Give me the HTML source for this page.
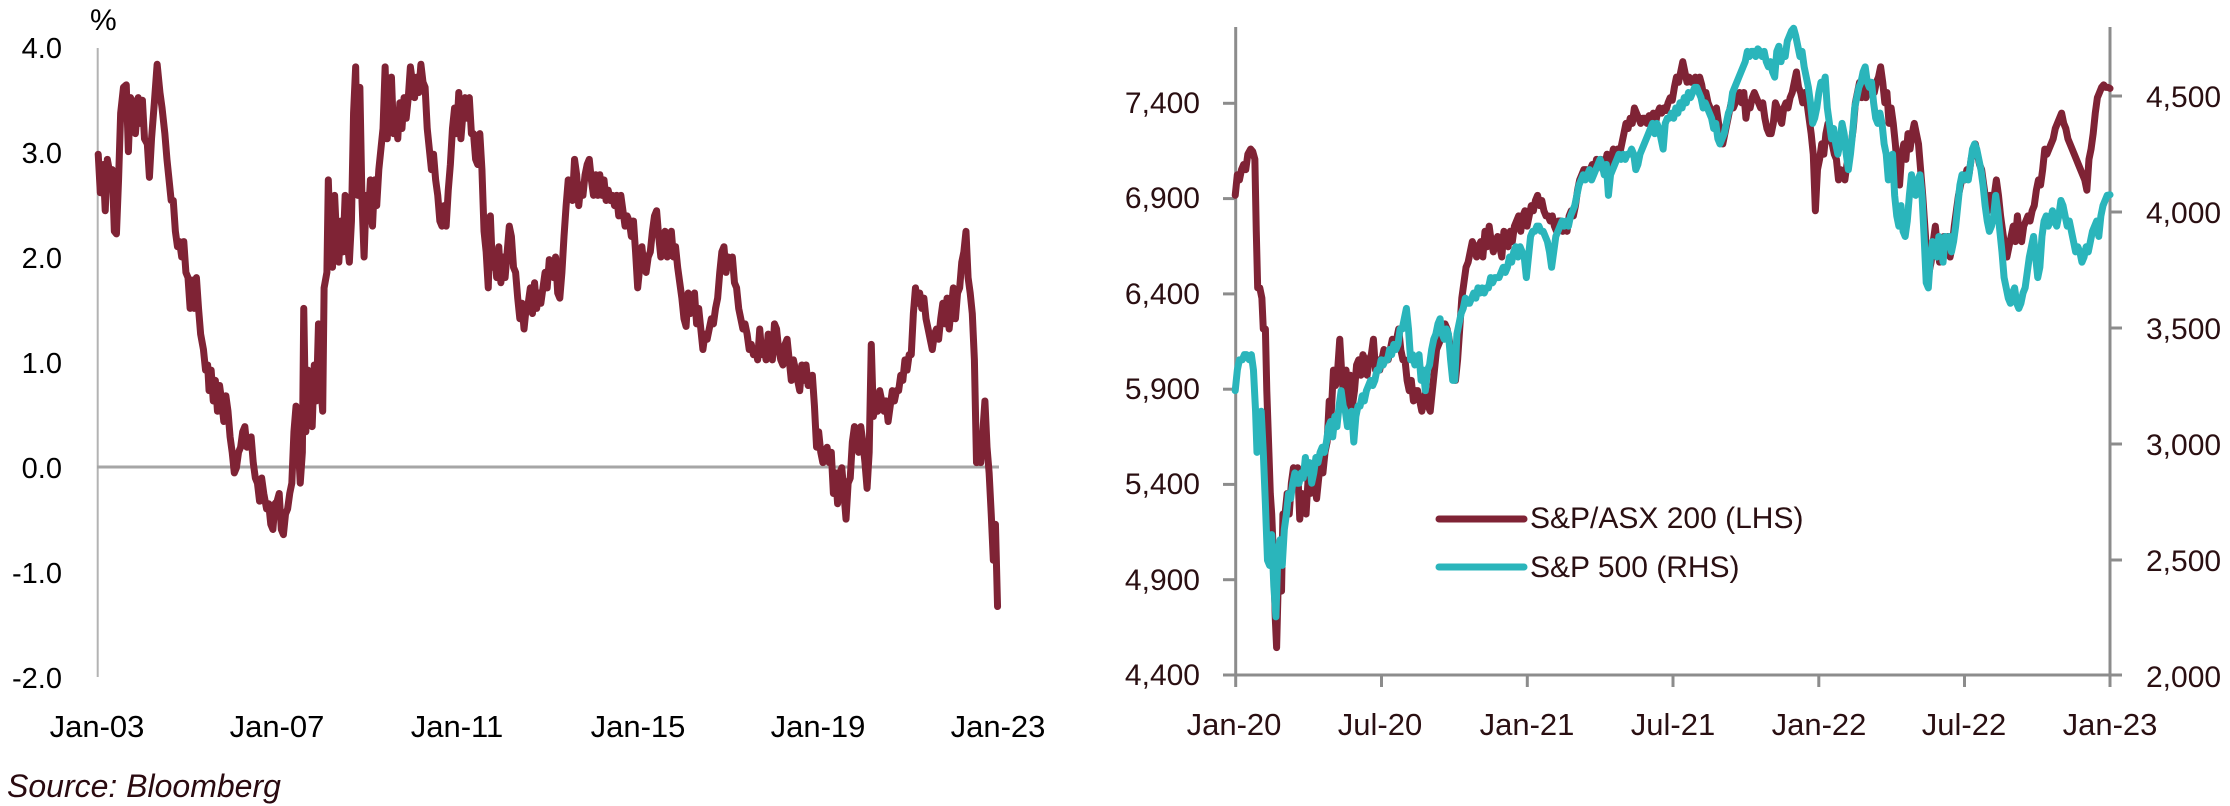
<!DOCTYPE html>
<html><head><meta charset="utf-8"><style>
html,body{margin:0;padding:0;background:#fff;}
svg{display:block;}
text{font-family:"Liberation Sans",sans-serif;}
</style></head><body>
<svg width="2230" height="806" viewBox="0 0 2230 806" xmlns="http://www.w3.org/2000/svg">
<rect width="2230" height="806" fill="#fff"/>
<!-- LEFT CHART -->
<line x1="97.7" y1="48" x2="97.7" y2="677" stroke="#b3b3b3" stroke-width="2"/>
<line x1="97" y1="467" x2="999" y2="467" stroke="#a6a6a6" stroke-width="3"/>
<g font-size="29" fill="#000" text-anchor="end">
<text x="62" y="58">4.0</text>
<text x="62" y="163">3.0</text>
<text x="62" y="268">2.0</text>
<text x="62" y="373">1.0</text>
<text x="62" y="478">0.0</text>
<text x="62" y="583">-1.0</text>
<text x="62" y="688">-2.0</text>
</g>
<text x="90" y="30" font-size="30" fill="#000">%</text>
<g font-size="31" fill="#000" text-anchor="middle">
<text x="97" y="737">Jan-03</text>
<text x="277" y="737">Jan-07</text>
<text x="457" y="737">Jan-11</text>
<text x="638" y="737">Jan-15</text>
<text x="818" y="737">Jan-19</text>
<text x="998" y="737">Jan-23</text>
</g>
<text x="7" y="797" font-size="32" font-style="italic" fill="#2a0a10">Source: Bloomberg</text>
<g transform="scale(0.70151,0.51403)">
<polyline fill="none" stroke="#7f2335" stroke-width="7" vector-effect="non-scaling-stroke" stroke-linejoin="round" stroke-linecap="round" points="140,300 143,375 147,320 150,410 153,310 157,340 160,330 163,450 166,455 169,350 172,220 176,170 180,165 183,295 186,190 190,200 193,260 197,190 200,240 203,195 206,270 210,280 213,345 216,270 220,200 224,125 228,180 231,210 235,260 238,310 241,350 244,390 247,390 250,450 253,480 256,470 259,500 262,470 265,530 268,540 271,600 274,545 277,600 280,540 283,600 286,650 290,680 293,720 296,710 298,760 301,720 304,780 307,740 310,800 313,750 316,780 319,820 322,770 325,800 328,850 331,880 334,920 337,910 340,880 343,870 346,840 349,830 352,870 355,860 358,850 361,900 364,930 367,940 370,975 373,930 376,960 380,990 383,980 386,1020 389,1030 392,980 395,975 398,960 401,1030 404,1040 407,1000 410,990 413,960 416,940 419,840 422,790 425,860 428,940 431,880 433,600 436,840 439,720 442,780 445,830 448,710 451,780 454,630 457,750 460,800 462,560 466,530 468,350 471,480 474,520 477,380 480,470 483,510 486,430 489,490 492,380 495,470 498,510 501,430 504,220 507,130 510,380 513,170 516,390 519,500 522,380 525,430 528,350 531,440 534,350 537,400 540,330 543,290 546,250 549,130 552,270 555,200 558,150 561,260 564,230 567,270 570,200 573,250 576,190 579,230 582,190 585,130 588,160 591,190 594,150 597,180 600,125 603,160 606,170 609,250 612,290 615,330 618,300 621,350 624,380 627,430 630,440 633,400 636,440 639,370 642,320 645,250 648,210 651,260 654,180 657,270 660,220 663,190 666,230 669,190 672,260 675,260 678,310 681,320 684,260 687,330 690,450 693,490 696,560 699,420 702,520 705,490 708,540 711,480 714,550 717,500 720,540 723,490 726,440 729,460 732,520 735,530 738,580 741,620 744,590 747,640 750,600 753,590 756,560 759,610 762,550 765,600 768,570 771,590 774,560 777,530 780,560 783,505 786,510 789,540 792,500 795,570 798,580 801,530 804,460 807,400 810,350 813,370 816,390 819,310 822,340 825,400 828,360 831,380 834,340 837,320 840,310 843,350 846,380 849,340 852,380 855,340 858,380 861,350 864,390 867,370 870,390 873,380 876,400 879,380 882,420 885,380 888,410 891,440 894,420 897,430 900,460 903,430 906,490 909,560 912,520 915,480 918,520 921,530 924,500 927,490 930,450 933,420 936,410 939,460 942,500 945,480 948,450 951,500 954,470 957,450 960,500 963,480 966,520 969,550 972,580 975,620 978,635 981,570 984,610 987,600 990,570 993,630 996,600 999,640 1002,680 1005,650 1008,660 1011,640 1014,620 1017,630 1020,600 1023,580 1026,530 1029,490 1032,480 1035,530 1038,500 1041,520 1044,500 1047,550 1050,560 1053,600 1056,620 1059,640 1062,630 1065,650 1068,680 1071,670 1074,690 1077,680 1080,700 1083,640 1086,690 1089,670 1092,700 1095,650 1098,680 1101,700 1104,630 1107,640 1110,680 1113,700 1116,710 1119,670 1122,660 1125,700 1128,740 1131,700 1134,720 1137,740 1140,760 1143,710 1146,740 1149,710 1152,750 1155,740 1158,730 1161,790 1164,870 1167,840 1170,880 1173,900 1176,880 1179,870 1182,900 1185,880 1188,960 1191,920 1194,980 1197,920 1200,910 1203,960 1206,1010 1209,940 1212,930 1215,860 1218,830 1221,860 1224,880 1227,830 1230,860 1233,900 1236,950 1239,880 1242,670 1245,810 1248,790 1251,800 1254,760 1257,780 1260,800 1263,780 1266,820 1269,790 1272,760 1275,780 1278,760 1281,760 1284,730 1287,740 1290,700 1293,720 1296,690 1299,690 1302,610 1305,560 1308,590 1311,570 1314,600 1317,580 1320,620 1323,640 1326,660 1329,680 1332,650 1335,640 1338,660 1341,620 1344,590 1347,630 1350,580 1353,640 1356,600 1359,560 1362,620 1365,570 1368,560 1371,510 1374,490 1377,450 1380,540 1383,570 1386,610 1389,700 1392,900 1395,880 1398,900 1401,840 1404,780 1407,870 1410,920 1413,1000 1416,1090 1419,1020 1422,1180"/>
</g>

<!-- RIGHT CHART -->
<g stroke="#8c8c8c" stroke-width="3" fill="none">
<line x1="1235.7" y1="27" x2="1235.7" y2="687"/>
<line x1="2110" y1="27" x2="2110" y2="687"/>
<line x1="1223" y1="675" x2="2122" y2="675"/>
<line x1="1223" y1="103.3" x2="1236" y2="103.3"/>
<line x1="1223" y1="198.6" x2="1236" y2="198.6"/>
<line x1="1223" y1="293.9" x2="1236" y2="293.9"/>
<line x1="1223" y1="389.2" x2="1236" y2="389.2"/>
<line x1="1223" y1="484.4" x2="1236" y2="484.4"/>
<line x1="1223" y1="579.7" x2="1236" y2="579.7"/>
<line x1="2110" y1="96" x2="2122" y2="96"/>
<line x1="2110" y1="212" x2="2122" y2="212"/>
<line x1="2110" y1="328" x2="2122" y2="328"/>
<line x1="2110" y1="444" x2="2122" y2="444"/>
<line x1="2110" y1="560" x2="2122" y2="560"/>
<line x1="1381.5" y1="675" x2="1381.5" y2="687"/>
<line x1="1527.3" y1="675" x2="1527.3" y2="687"/>
<line x1="1673" y1="675" x2="1673" y2="687"/>
<line x1="1818.8" y1="675" x2="1818.8" y2="687"/>
<line x1="1964.5" y1="675" x2="1964.5" y2="687"/>
</g>
<g font-size="30" fill="#2a0f12" text-anchor="end">
<text x="1200" y="113">7,400</text>
<text x="1200" y="208">6,900</text>
<text x="1200" y="304">6,400</text>
<text x="1200" y="399">5,900</text>
<text x="1200" y="494">5,400</text>
<text x="1200" y="590">4,900</text>
<text x="1200" y="685">4,400</text>
</g>
<g font-size="30" fill="#2a0f12" text-anchor="start">
<text x="2146" y="107">4,500</text>
<text x="2146" y="223">4,000</text>
<text x="2146" y="339">3,500</text>
<text x="2146" y="455">3,000</text>
<text x="2146" y="571">2,500</text>
<text x="2146" y="687">2,000</text>
</g>
<g font-size="31" fill="#2a0f12" text-anchor="middle">
<text x="1234" y="735">Jan-20</text>
<text x="1380" y="735">Jul-20</text>
<text x="1527" y="735">Jan-21</text>
<text x="1673" y="735">Jul-21</text>
<text x="1819" y="735">Jan-22</text>
<text x="1964" y="735">Jul-22</text>
<text x="2110" y="735">Jan-23</text>
</g>
<g transform="translate(1130,0) scale(0.70151,0.51403)" fill="none" stroke-width="7" stroke-linejoin="round" stroke-linecap="round">
<polyline stroke="#7f2335" vector-effect="non-scaling-stroke" points="150,380 153,340 156,350 159,330 162,320 165,330 168,300 172,290 175,295 178,310 180,450 182,560 185,560 188,580 190,640 193,640 195,760 198,880 200,960 202,1000 205,1100 207,1200 209,1260 211,1150 213,1080 216,1150 218,1000 221,1000 224,960 227,1000 230,940 233,910 236,920 239,910 242,1010 245,960 248,990 251,1000 254,930 257,960 260,920 263,940 266,970 269,930 272,900 275,920 278,880 281,860 284,780 287,800 290,720 293,750 296,720 299,660 302,730 305,780 308,720 311,790 314,730 317,790 320,760 323,710 326,700 329,730 332,690 335,700 338,730 341,700 344,690 347,660 350,720 353,700 356,720 359,700 362,680 365,690 368,700 371,680 374,660 377,670 380,660 383,640 386,680 389,700 392,700 395,740 398,760 401,740 404,780 407,760 410,760 413,780 416,800 419,780 422,760 425,790 428,800 431,760 434,720 437,680 440,670 443,660 446,640 449,630 452,640 455,660 458,690 461,720 464,740 467,700 470,640 473,580 476,550 479,520 482,510 485,490 488,470 491,480 494,500 497,480 500,470 503,500 506,450 509,480 512,440 515,470 518,490 521,470 524,460 527,480 530,500 533,450 536,470 539,480 542,450 545,470 548,440 551,430 554,420 557,450 560,420 563,410 566,440 569,420 572,400 575,410 578,390 581,380 584,400 587,390 590,410 593,420 596,420 599,430 602,420 605,440 608,450 611,430 614,430 617,450 620,440 623,450 626,420 629,410 632,420 635,400 638,370 641,350 644,340 647,330 650,330 653,340 656,330 659,320 662,330 665,310 668,320 671,310 674,330 677,320 680,300 683,320 686,310 689,290 692,300 695,290 698,300 701,280 704,260 707,240 710,250 713,230 716,240 719,210 722,220 725,230 728,240 731,230 734,230 737,240 740,225 743,230 746,220 749,240 752,220 755,210 758,220 761,210 764,215 767,200 770,190 773,195 776,170 779,150 782,160 785,140 788,120 791,140 794,160 797,150 800,160 803,155 806,150 809,160 812,150 815,165 818,190 821,180 824,200 827,210 830,220 833,220 836,210 839,240 842,260 845,280 848,260 851,240 854,220 857,200 860,210 863,200 866,190 869,180 872,200 875,180 878,230 881,200 884,210 887,190 890,180 893,190 896,200 899,210 902,200 905,230 908,250 911,260 914,260 917,240 920,200 923,210 926,230 929,240 932,210 935,200 938,210 941,190 944,180 947,160 950,140 953,170 956,180 959,200 962,180 965,200 968,230 971,260 974,300 977,410 980,330 983,310 986,280 989,300 992,260 995,240 998,270 1001,280 1004,300 1007,310 1010,350 1013,330 1016,340 1019,350 1022,320 1025,300 1028,280 1031,250 1034,200 1037,180 1040,160 1043,190 1046,170 1049,190 1052,170 1055,160 1058,170 1061,180 1064,160 1067,150 1070,130 1073,160 1076,200 1079,180 1082,240 1085,210 1088,240 1091,280 1094,330 1097,360 1100,300 1103,280 1106,310 1109,260 1112,290 1115,260 1118,240 1121,260 1124,280 1127,330 1130,380 1133,440 1136,500 1139,530 1142,510 1145,470 1148,440 1151,480 1154,510 1157,500 1160,460 1163,480 1166,460 1169,500 1172,480 1175,440 1178,410 1181,380 1184,360 1187,340 1190,350 1193,330 1196,340 1199,310 1202,290 1205,280 1208,300 1211,320 1214,330 1217,360 1220,390 1223,410 1226,380 1229,400 1232,380 1235,350 1238,380 1241,420 1244,450 1247,480 1250,500 1253,480 1256,460 1259,440 1262,470 1265,420 1268,460 1271,470 1274,440 1277,430 1280,420 1283,430 1286,410 1289,400 1292,370 1295,350 1298,360 1301,330 1304,290 1307,300 1310,290 1313,280 1316,270 1319,250 1322,240 1325,230 1328,220 1331,240 1334,250 1337,270 1340,280 1343,290 1346,300 1349,310 1352,320 1355,330 1358,340 1361,350 1364,370 1367,310 1370,290 1373,260 1376,220 1379,190 1382,180 1385,170 1388,165 1391,170 1394,170 1397,172"/>
<polyline stroke="#2ab5bb" vector-effect="non-scaling-stroke" points="150,760 153,720 156,700 160,700 163,690 166,690 170,700 173,690 176,720 179,800 181,880 184,870 187,800 190,880 193,980 196,1090 199,1100 202,1040 205,1140 208,1200 211,1070 214,1050 217,1100 220,1030 223,1000 226,960 229,970 232,940 235,920 238,940 241,940 244,920 247,930 250,890 253,920 256,900 259,940 262,920 265,890 268,900 271,880 274,870 277,880 280,860 283,830 286,820 289,850 292,810 295,830 298,790 301,760 304,790 307,800 310,830 313,810 316,800 319,860 322,810 325,790 328,790 331,770 334,780 337,760 340,750 343,740 346,750 349,740 352,720 355,720 358,700 361,710 364,700 367,700 370,680 373,690 376,670 379,680 382,670 385,640 388,640 391,620 394,600 397,640 400,700 403,690 406,710 409,700 412,690 415,740 418,720 421,760 424,720 427,710 430,680 433,660 436,650 439,630 442,620 445,650 448,660 451,640 454,650 457,700 460,740 463,740 466,650 469,630 472,610 475,600 478,580 481,590 484,590 487,580 490,570 493,580 496,560 499,570 502,560 505,570 508,560 511,560 514,540 517,550 520,540 523,540 526,540 529,530 532,520 535,530 538,520 541,500 544,510 547,490 550,480 553,500 556,480 559,490 562,500 565,540 568,500 571,460 574,450 577,450 580,440 583,440 586,450 589,450 592,460 595,470 598,490 601,520 604,490 607,460 610,450 613,440 616,430 619,440 622,430 625,440 628,420 631,410 634,400 637,380 640,360 643,350 646,340 649,350 652,340 655,330 658,350 661,340 664,330 667,320 670,310 673,320 676,340 679,320 682,380 685,340 688,330 691,320 694,310 697,300 700,310 703,300 706,310 709,300 712,300 715,290 718,300 721,330 724,320 727,300 730,290 733,280 736,270 739,260 742,250 745,240 748,260 751,240 754,250 757,270 760,290 763,240 766,230 769,230 772,220 775,230 778,210 781,220 784,200 787,210 790,190 793,200 796,180 799,190 802,180 805,170 808,170 811,180 814,190 817,210 820,200 823,210 826,220 829,230 832,250 835,240 838,270 841,280 844,270 847,260 850,240 853,220 856,210 859,180 862,170 865,160 868,150 871,140 874,130 877,120 880,100 883,110 886,100 889,100 892,110 895,95 898,100 901,110 904,100 907,120 910,130 913,120 916,140 919,150 922,100 925,90 928,120 931,100 934,110 937,80 940,70 943,60 946,55 949,70 952,90 955,110 958,100 961,130 964,150 967,170 970,200 973,240 976,230 979,210 982,180 985,160 988,170 991,150 994,210 997,240 1000,270 1003,250 1006,280 1009,300 1012,280 1015,240 1018,260 1021,300 1024,330 1027,300 1030,260 1033,210 1036,190 1039,170 1042,160 1045,140 1048,130 1051,160 1054,170 1057,160 1060,200 1063,230 1066,240 1069,220 1072,240 1075,280 1078,300 1081,350 1084,320 1087,300 1090,380 1093,420 1096,440 1099,400 1102,450 1105,460 1108,430 1111,380 1114,340 1117,370 1120,380 1123,350 1126,340 1129,380 1132,460 1135,550 1138,560 1141,500 1144,470 1147,480 1150,500 1153,460 1156,480 1159,510 1162,460 1165,480 1168,460 1171,490 1174,470 1177,440 1180,400 1183,360 1186,340 1189,350 1192,340 1195,350 1198,320 1201,290 1204,280 1207,290 1210,310 1213,330 1216,360 1219,400 1222,430 1225,450 1228,440 1231,420 1234,380 1237,410 1240,450 1243,490 1246,540 1249,560 1252,580 1255,590 1258,570 1261,560 1264,590 1267,600 1270,590 1273,570 1276,560 1279,530 1282,500 1285,480 1288,460 1291,500 1294,540 1297,520 1300,460 1303,430 1306,420 1309,440 1312,430 1315,410 1318,430 1321,440 1324,420 1327,390 1330,400 1333,420 1336,440 1339,430 1342,450 1345,470 1348,490 1351,480 1354,490 1357,510 1360,500 1363,480 1366,490 1369,470 1372,450 1375,440 1378,430 1381,460 1384,420 1387,400 1390,390 1393,380 1397,379"/>
</g>
<!-- Legend -->
<line x1="1439" y1="519" x2="1524" y2="519" stroke="#7f2335" stroke-width="7" stroke-linecap="round"/>
<line x1="1439" y1="567" x2="1524" y2="567" stroke="#2ab5bb" stroke-width="7" stroke-linecap="round"/>
<text x="1530" y="528" font-size="30" fill="#2a0f12">S&amp;P/ASX 200 (LHS)</text>
<text x="1530" y="577" font-size="30" fill="#2a0f12">S&amp;P 500 (RHS)</text>
</svg>
</body></html>
